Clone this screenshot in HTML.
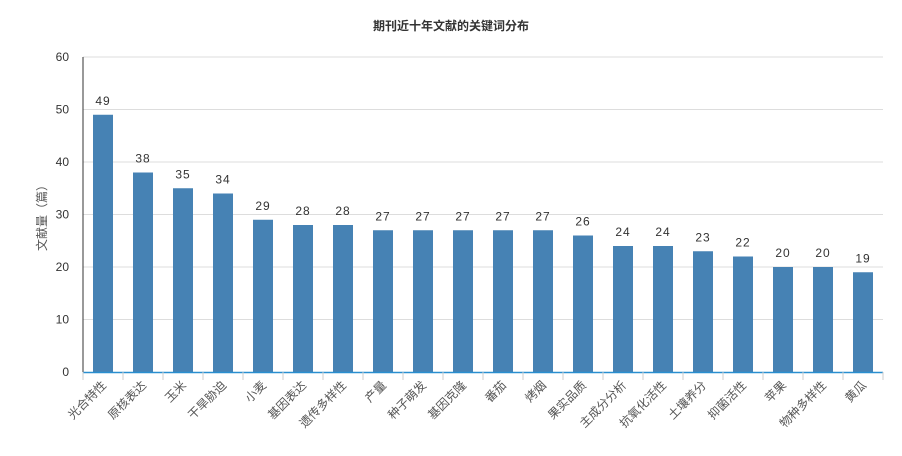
<!DOCTYPE html>
<html><head><meta charset="utf-8"><style>
body{margin:0;background:#fff;}
svg{display:block;font-family:"Liberation Sans","Noto Sans CJK SC",sans-serif;}
</style></head><body>
<svg id="chart" width="902" height="456" viewBox="0 0 902 456">
<text x="451" y="30" text-anchor="middle" font-size="12" font-weight="bold" fill="#333">期刊近十年文献的关键词分布</text>
<text transform="translate(46,215) rotate(-90)" text-anchor="middle" font-size="12" fill="#555">文献量（篇）</text>
<g id="grid"></g><g id="bars"></g><g id="xaxis"></g>
</svg>
<script>
const categories=["光合特性","原核表达","玉米","干旱胁迫","小麦","基因表达","遗传多样性","产量","种子萌发","基因克隆","番茄","烤烟","果实品质","主成分分析","抗氧化活性","土壤养分","抑菌活性","苹果","物种多样性","黄瓜"];
const values=[49,38,35,34,29,28,28,27,27,27,27,27,26,24,24,23,22,20,20,19];
const yTicks=[0,10,20,30,40,50,60];
const NS="http://www.w3.org/2000/svg";
const x0=83,x1=883,y0=372,y1=57,yMax=60;
const band=(x1-x0)/categories.length;
const yScale=v=>y0-(v/yMax)*(y0-y1);
const xCenter=i=>x0+band*(i+0.5);
function mk(tag,attrs,parent){const e=document.createElementNS(NS,tag);for(const k in attrs)e.setAttribute(k,attrs[k]);parent.appendChild(e);return e;}
const grid=document.getElementById('grid'),bars=document.getElementById('bars'),xa=document.getElementById('xaxis');
yTicks.forEach(t=>{
 const y=yScale(t);
 if(t>0){const l=mk('line',{x1:x0,x2:x1,y1:y,y2:y,stroke:'#ddd','stroke-width':1},grid);
 
 }
 const tx=mk('text',{x:x0-14,y:y+4,'text-anchor':'end','font-size':12,fill:'#333'},grid);
 tx.textContent=t;
 
 
});
const yl=mk('line',{x1:x0,x2:x0,y1:y1,y2:y0,stroke:'#333','stroke-width':1},grid);


values.forEach((v,i)=>{
 const cx=xCenter(i),y=yScale(v);
 const r=mk('rect',{x:cx-10,y:y,width:20,height:y0-y,fill:'#4682b4'},bars);
 
 
 const t=mk('text',{x:cx,y:y-10,'text-anchor':'middle','font-size':12,fill:'#333','letter-spacing':'1'},bars);
 t.textContent=v;
 
 
});
const xl=mk('line',{x1:x0,x2:x1,y1:y0+0.5,y2:y0+0.5,stroke:'#2a8fd0','stroke-width':1.5},xa);


for(let i=0;i<=categories.length;i++){
 const x=x0+band*i;
 const tk=mk('line',{x1:x,x2:x,y1:y0,y2:y0+8,stroke:'#ccc'},xa);
 
 
}
categories.forEach((c,i)=>{
 const cx=xCenter(i)+4,y=y0+14;
 const t=mk('text',{x:cx,y:y,'text-anchor':'end','font-size':12,fill:'#555',transform:`rotate(-45 ${cx} ${y})`},xa);
 t.textContent=c;
 
 
});
</script>
</body></html>
